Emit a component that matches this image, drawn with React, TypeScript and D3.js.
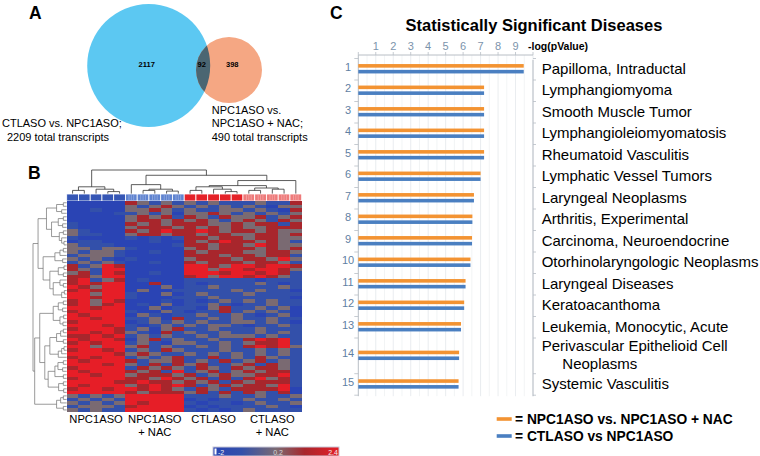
import React from "react";
import * as d3 from "d3";

// ---------- Panel A: Venn data ----------
const vennSets = ["CTLASO vs. NPC1ASO;", "NPC1ASO vs. NPC1ASO + NAC;"];
const vennCounts = [2117, 92, 398];
const vennTotals = [2209, 490];

// ---------- Panel B: heatmap data ----------
// B = -2, b = -1, g = 0.2, r = 1.2, R = 2.4
const levelValues: Record<string, number> = { B: -2, b: -1, g: 0.2, r: 1.2, R: 2.4 };
const groupNames = [["NPC1ASO"], ["NPC1ASO", "+ NAC"], ["CTLASO"], ["CTLASO", "+ NAC"]];
const colorLegendTicks = ["-2", "0.2", "2.4"];
const colorLegendDomain = [-2, -1, 0.2, 1.2, 2.4];
const heatRows = [
  "BBBBB rgbgb gbgbb bgbbr",
  "BBBBB gbgrg bgbgb gbBgg",
  "BBbBB ggrgb gbbgg bgbBr",
  "BBBBb bgbgB ggrgb gbgbg",
  "BBBBB grgrb rgbrg grbgr",
  "BBBBB grrgr grgbg rgbrg",
  "bBBBB rgrgr rrggr grrbr",
  "bBBBB grrrg rgrgr ggrrr",
  "gbBBB rgrRr rRrgr rgrgg",
  "gbbBB grrgr rgrrg grrgr",
  "bBBBB bBbBb rrgrr grrgg",
  "BbbBB BBbBB rgrRr rgrgb",
  "gbbbB BBBBb rrgrr gRrgg",
  "ggbgg bBBBB grgrr rgrgr",
  "gbggb BBbBB rgrrr ggrrg",
  "bgggb BBBBB rrrgr rgrrb",
  "gbgbB bBBBB grrrg rrgRg",
  "bgbgb BBbBB rgrrr grrgb",
  "rbgRr BBBBB RRrgR RrRRr",
  "rgbRR BBBBB RRgRR rRRrg",
  "grbRr BBbBB RRRrR RrRrb",
  "rrgRR BBBBB rRgRR rRrgb",
  "rRbgr BbBBB bbbbb bBbbb",
  "rRrRR BBrBB bBbbb bgbBb",
  "RrgRR BBBgB bbgbb bbbgb",
  "rRrRR BgBBb bbbbg bgbbB",
  "RRgRR bBBgB bgbbb gbbbb",
  "RRrRR bBBBb bbgbb bbbbB",
  "rRgRr BBBbB bBbgb gbgbb",
  "rRgrR BbBgB bbgbB bbgbb",
  "RRrRR BBgBb bBgrb bgbgB",
  "rRRRR bBBgb Bbbrb gbgbB",
  "RrRRR BgbBb bgbbg bBbgB",
  "RRrRR bbgBr bbgbg bbgbb",
  "rRRRR Bbgbg bgbbg gbgbB",
  "RRRrR bBbgb gbggb Bbbgb",
  "rRRRr bgBgr bbgbb bgbbb",
  "RRrRr gbBrb gbbgb bgbgb",
  "rrRrR bgbgb bgbgg gbgbb",
  "RrRRr Bgrbg bbgbb rRrRb",
  "rRrRR bgbBg gbbgb grrRb",
  "RRgRR grbgb bgbgb rRrRg",
  "rRRrR bgbrg bbbgb bgbgb",
  "RRRRr grgbb gbgbg bgbgb",
  "rRrRR bgbgr bbrbg brgbb",
  "RrRRR rbggr bgbrb grbgb",
  "RRRrR gbrbr grbbg rbrgb",
  "rRRRR brgrg brgbr grrgb",
  "RrRRR rgrbR bgrbg rgrrb",
  "RRrRR grrrg rbgrg grrRb",
  "rRRRR rrgRr grbrb rRgrb",
  "RRRRr rRrrg rgrbr grrrb",
  "RrRRR grRrR rbgrg rrgRb",
  "rRRrR RrRrg brgbr rrrRB",
  "RRRRR rgrrr grbrb rgbrB",
  "gbgbg RRRRR bbbgb bgbbg",
  "bgbgb RRRRR BbBbb gbbgb",
  "gbgbg RrRRR bBbbB bgbbg",
  "bgggb rRRRR BbBbb bbgbB",
  "gbgbb RRRRR bBbBb gbbbb",
];
// dendrograms as newick-like strings: (child,child)height ; leaves are indices
const colTreeA = "((0,1)1.5,(2,(3,4)1)2)3";
const colTreeNAC = "(5,((6,7)1.5,(8,9)1.2)2)3.9";
const colTreeCT = "((((10,11)1.5,(12,(13,14)1)2)3,((15,16)1.5,(17,18)2)2.5)3.5,19)5.6";
const colTree = `(${colTreeA},(${colTreeNAC},${colTreeCT})7.8)10`;
const rowT1 = "(((0,1)1,(2,3)1.5)3,(((4,5)1,(6,7)1.2)2.5,((8,9)1,(10,(11,12)0.8)1.5)2.2)4.5)6";
const rowT2 = "((((13,14)1,15)2,(16,17)1.2)3.5,(((18,19)0.8,(20,21)1)2.5,((22,(23,24)1)2,((25,26)0.7,27)1.5)4)5)7";
const rowR1 = "(((28,29)1,(30,31)1.2)2.5,((32,33)0.9,(34,35)1.1)2)4";
const rowR2 = "((((36,37)1,38)1.8,(39,40)1)3,(((41,42)0.8,43)1.5,44)2.5)5";
const rowR3 = "((((45,46)1,(47,48)1.2)2.6,(49,50)1)3.5,((51,52)1,(53,54)0.9)2.4)5.5";
const rowB2 = "(((55,56)1,57)1.8,(58,59)1)3";
const rowTree = `((${rowT1},${rowT2})8.5,((${rowR1},(${rowR2},${rowR3})6.5)8,${rowB2})9.5)10`;

// ---------- Panel C: bar chart data ----------
const chartTitle = "Statistically Significant Diseases";
const axisTitle = "-log(pValue)";
const xTicks = [1, 2, 3, 4, 5, 6, 7, 8, 9];
const diseases = [
  "Papilloma, Intraductal",
  "Lymphangiomyoma",
  "Smooth Muscle Tumor",
  "Lymphangioleiomyomatosis",
  "Rheumatoid Vasculitis",
  "Lymphatic Vessel Tumors",
  "Laryngeal Neoplasms",
  "Arthritis, Experimental",
  "Carcinoma, Neuroendocrine",
  "Otorhinolaryngologic Neoplasms",
  "Laryngeal Diseases",
  "Keratoacanthoma",
  "Leukemia, Monocytic, Acute",
  "Perivascular Epithelioid Cell\nNeoplasms",
  "Systemic Vasculitis",
];
const npcVsNac = [9.47, 7.2, 7.2, 7.2, 7.2, 7.0, 6.62, 6.53, 6.51, 6.42, 6.14, 6.06, 5.88, 5.77, 5.74];
const ctlVsNpc = [9.47, 7.2, 7.2, 7.2, 7.2, 7.0, 6.62, 6.53, 6.51, 6.42, 6.14, 6.06, 5.88, 5.77, 5.74];
const seriesNames = ["= NPC1ASO vs. NPC1ASO + NAC", "= CTLASO vs NPC1ASO"];

// ---------- helpers ----------
type TNode = { h: number; leaf?: number; children?: TNode[] };
function parseTree(s: string): TNode {
  let i = 0;
  const num = () => {
    const j = i;
    while (i < s.length && /[0-9.]/.test(s[i])) i++;
    return parseFloat(s.slice(j, i));
  };
  const node = (): TNode => {
    if (s[i] === "(") {
      i++;
      const children: TNode[] = [node()];
      while (s[i] === ",") {
        i++;
        children.push(node());
      }
      i++;
      return { h: num(), children };
    }
    return { h: 0, leaf: num() };
  };
  return node();
}
function dendro(str: string, leafPos: (i: number) => number, hPos: (h: number) => number) {
  const root: any = d3.hierarchy(parseTree(str), (d: TNode) => d.children);
  root.eachAfter((n: any) => {
    n.p = n.children ? (n.children[0].p + n.children[n.children.length - 1].p) / 2 : leafPos(n.data.leaf);
  });
  const segs: number[][] = [];
  root.each((n: any) => {
    if (!n.children) return;
    const hp = hPos(n.data.h);
    segs.push([n.children[0].p, hp, n.children[n.children.length - 1].p, hp]);
    n.children.forEach((c: any) => segs.push([c.p, hPos(c.data.h), c.p, hp]));
  });
  return segs;
}

const FONT = "'Liberation Sans', Arial, Helvetica, sans-serif";

export default function App() {
  // ---- heatmap geometry ----
  const nCols = 20;
  const cells = heatRows.map((r) => r.replace(/\s/g, "").split(""));
  const colX = d3.scaleBand<number>().domain(d3.range(nCols)).range([66.7, 301.7]);
  const rowY = d3.scaleBand<number>().domain(d3.range(cells.length)).range([201, 411.7]);
  const color = d3
    .scaleLinear<string>()
    .domain(colorLegendDomain)
    .range(["#2a44b4", "#3350aa", "#7a6a72", "#a8262c", "#e61e27"]);
  const groupColors = ["#3556b5", "#5f83d0", "#e52228", "#ee7a7a"];
  const colSegs = dendro(colTree, (i) => colX(i)! + colX.bandwidth() / 2, d3.scaleLinear([0, 10], [194, 170]));
  const rowSegs = dendro(rowTree, (i) => rowY(i)! + rowY.bandwidth() / 2, d3.scaleLinear([0, 10], [66.7, 33]));

  // ---- bar chart geometry ----
  const x = d3.scaleLinear().domain([0, 10]).range([358.3, 533]);
  const unitH = 21.5;
  const tallH = 35.7;
  const bandTop = 58.5;
  const heights = diseases.map((d) => (d.includes("\n") ? tallH : unitH));
  const starts = heights.map((_, i) => bandTop + d3.sum(heights.slice(0, i)));
  const centers = starts.map((s, i) => s + heights[i] / 2);
  const bandBottom = bandTop + d3.sum(heights);
  const gridVals = d3.range(0.5, 10.01, 0.5);

  const legendStops = colorLegendDomain.map((v) => ({
    off: (v - colorLegendDomain[0]) / (colorLegendDomain[colorLegendDomain.length - 1] - colorLegendDomain[0]),
    c: color(v),
  }));

  return (
    <svg
      width={760}
      height={456}
      style={{ position: "absolute", left: 0, top: 0, background: "#fff" }}
      fontFamily={FONT}
    >
      <defs>
        <clipPath id="blueClip">
          <circle cx={148.7} cy={65.5} r={61.5} />
        </clipPath>
        <linearGradient id="legendGrad" x1="0" x2="1" y1="0" y2="0">
          {legendStops.map((s, i) => (
            <stop key={i} offset={s.off} stopColor={s.c} />
          ))}
        </linearGradient>
      </defs>

      {/* ---------- Panel A ---------- */}
      <text x={29} y={18.8} fontSize={17.5} fontWeight="bold">A</text>
      <circle cx={148.7} cy={65.5} r={61.5} fill="#5cc8f2" />
      <circle cx={229} cy={70} r={33} fill="#f5a783" />
      <circle cx={229} cy={70} r={33} fill="#4b6672" clipPath="url(#blueClip)" />
      {[146.7, 201.7, 232.3].map((cx, i) => (
        <text key={i} x={cx} y={64.3} dy="0.35em" fontSize={7.5} fontWeight="bold" textAnchor="middle">
          {vennCounts[i]}
        </text>
      ))}
      <text fontSize={11}>
        <tspan x={2} y={127.3}>{vennSets[0]}</tspan>
        <tspan x={7} y={140.6}>{`${vennTotals[0]} total transcripts`}</tspan>
      </text>
      <text fontSize={11}>
        <tspan x={211.7} y={113.9}>{vennSets[1].split(" + ")[0].replace(/ NPC1ASO$/, "")}</tspan>
        <tspan x={211.7} y={127.3}>{"NPC1ASO + " + vennSets[1].split(" + ")[1]}</tspan>
        <tspan x={211.7} y={140.6}>{`${vennTotals[1]} total transcripts`}</tspan>
      </text>

      {/* ---------- Panel B ---------- */}
      <text x={28} y={179.3} fontSize={17.5} fontWeight="bold">B</text>
      {colSegs.map((s, i) => (
        <line key={"c" + i} x1={s[0]} y1={s[1]} x2={s[2]} y2={s[3]} stroke="#333" strokeWidth={0.8} />
      ))}
      {rowSegs.map((s, i) => (
        <line key={"r" + i} x1={s[1]} y1={s[0]} x2={s[3]} y2={s[2]} stroke="#707070" strokeWidth={0.7} />
      ))}
      {/* column annotation bar */}
      {d3.range(nCols).map((c) => {
        const g = Math.floor(c / 5);
        const x0 = colX(c)!;
        const w = colX.bandwidth();
        return (
          <g key={"cb" + c}>
            <rect x={x0} y={194} width={w} height={7} fill={groupColors[g]} stroke="#fff" strokeWidth={0.8} />
            {(g === 1 || g === 3) &&
              [0.3, 0.5, 0.7].map((f) => (
                <line key={f} x1={x0 + w * f} x2={x0 + w * f} y1={195} y2={200} stroke="#fff" strokeOpacity={0.45} strokeWidth={0.6} />
              ))}
          </g>
        );
      })}
      {/* heatmap cells */}
      <g shapeRendering="crispEdges">
        {cells.map((row, r) =>
          row.map((ch, c) => (
            <rect
              key={r + "-" + c}
              x={colX(c)!}
              y={rowY(r)!}
              width={colX.bandwidth() + 0.4}
              height={rowY.bandwidth() + 0.4}
              fill={color(levelValues[ch])}
            />
          ))
        )}
      </g>
      {groupNames.map((lines, g) => {
        const cx = (colX(g * 5)! + colX(g * 5 + 4)! + colX.bandwidth()) / 2;
        return (
          <text key={"gl" + g} fontSize={11.2} textAnchor="middle">
            {lines.map((l, k) => (
              <tspan key={k} x={cx} y={423 + k * 13.3}>{l}</tspan>
            ))}
          </text>
        );
      })}
      {/* colour legend */}
      <rect x={213} y={447} width={126} height={9} fill="url(#legendGrad)" stroke="#c8c8d8" strokeWidth={1} />
      <rect x={214.5} y={448.5} width={2} height={6} fill="#fff" />
      {colorLegendTicks.map((t, i) => (
        <text
          key={"lt" + i}
          x={[221, 278, 333][i]}
          y={454.5}
          fontSize={7}
          textAnchor="middle"
          fill={i === 1 ? "#d8d8d8" : "#f0f0f0"}
        >
          {t}
        </text>
      ))}

      {/* ---------- Panel C ---------- */}
      <text x={330} y={18.5} fontSize={17.5} fontWeight="bold">C</text>
      <text x={534} y={31} fontSize={16.5} fontWeight="bold" textAnchor="middle">{chartTitle}</text>
      {gridVals.map((v) => (
        <line key={"g" + v} x1={x(v)} x2={x(v)} y1={55} y2={bandBottom + 1} stroke={v % 1 === 0 ? "#e3e7eb" : "#eff1f3"} strokeWidth={0.8} />
      ))}
      <line x1={x(0)} x2={x(10)} y1={55} y2={55} stroke="#b8bec5" strokeWidth={1} />
      {d3.range(0, 11).map((v) => (
        <line key={"t" + v} x1={x(v)} x2={x(v)} y1={52} y2={55} stroke="#b8bec5" strokeWidth={0.8} />
      ))}
      {xTicks.map((v) => (
        <text key={"xt" + v} x={x(v)} y={50} fontSize={11} textAnchor="middle" fill="#7b93ab">{v}</text>
      ))}
      <text x={528} y={50} fontSize={10.5} fontWeight="bold">{axisTitle}</text>
      <line x1={x(0)} x2={x(0)} y1={55} y2={bandBottom + 1} stroke="#b8bec5" strokeWidth={1} />
      <line x1={x(10)} x2={x(10)} y1={60} y2={bandBottom + 1} stroke="#b8bec5" strokeWidth={1} />
      {[...starts, bandBottom].map((s, i) => (
        <g key={"bt" + i}>
          <line x1={x(0) - 4} x2={x(0)} y1={s} y2={s} stroke="#b8bec5" strokeWidth={0.8} />
          <line x1={x(10)} x2={x(10) + 3} y1={s} y2={s} stroke="#b8bec5" strokeWidth={0.8} />
        </g>
      ))}
      {diseases.map((d, i) => {
        const c = centers[i];
        return (
          <g key={"row" + i}>
            <text x={348} y={c - 2.5} dy="0.35em" fontSize={11} textAnchor="middle" fill="#5f7fa3">{i + 1}</text>
            <rect x={x(0)} y={c - 5.2} width={x(npcVsNac[i]) - x(0)} height={3.6} fill="#f39332" />
            <rect x={x(0)} y={c + 0.6} width={x(ctlVsNpc[i]) - x(0)} height={3.6} fill="#4a7fc1" />
            {d.includes("\n") ? (
              <text fontSize={15}>
                <tspan x={541.7} y={c - 9.85 + 5.3}>{d.split("\n")[0]}</tspan>
                <tspan x={562.3} y={c + 7.45 + 5.3}>{d.split("\n")[1]}</tspan>
              </text>
            ) : (
              <text x={541.7} y={c - 1 + 5.3} fontSize={15}>{d}</text>
            )}
          </g>
        );
      })}
      {/* legend */}
      {seriesNames.map((s, i) => (
        <g key={"lg" + i}>
          <rect x={496.7} y={[419, 436][i] - 1.8} width={15} height={3.6} fill={["#f39332", "#4a7fc1"][i]} />
          <text x={515} y={[419, 436][i] + 4.9} fontSize={13.8} fontWeight="bold">{s}</text>
        </g>
      ))}
    </svg>
  );
}
